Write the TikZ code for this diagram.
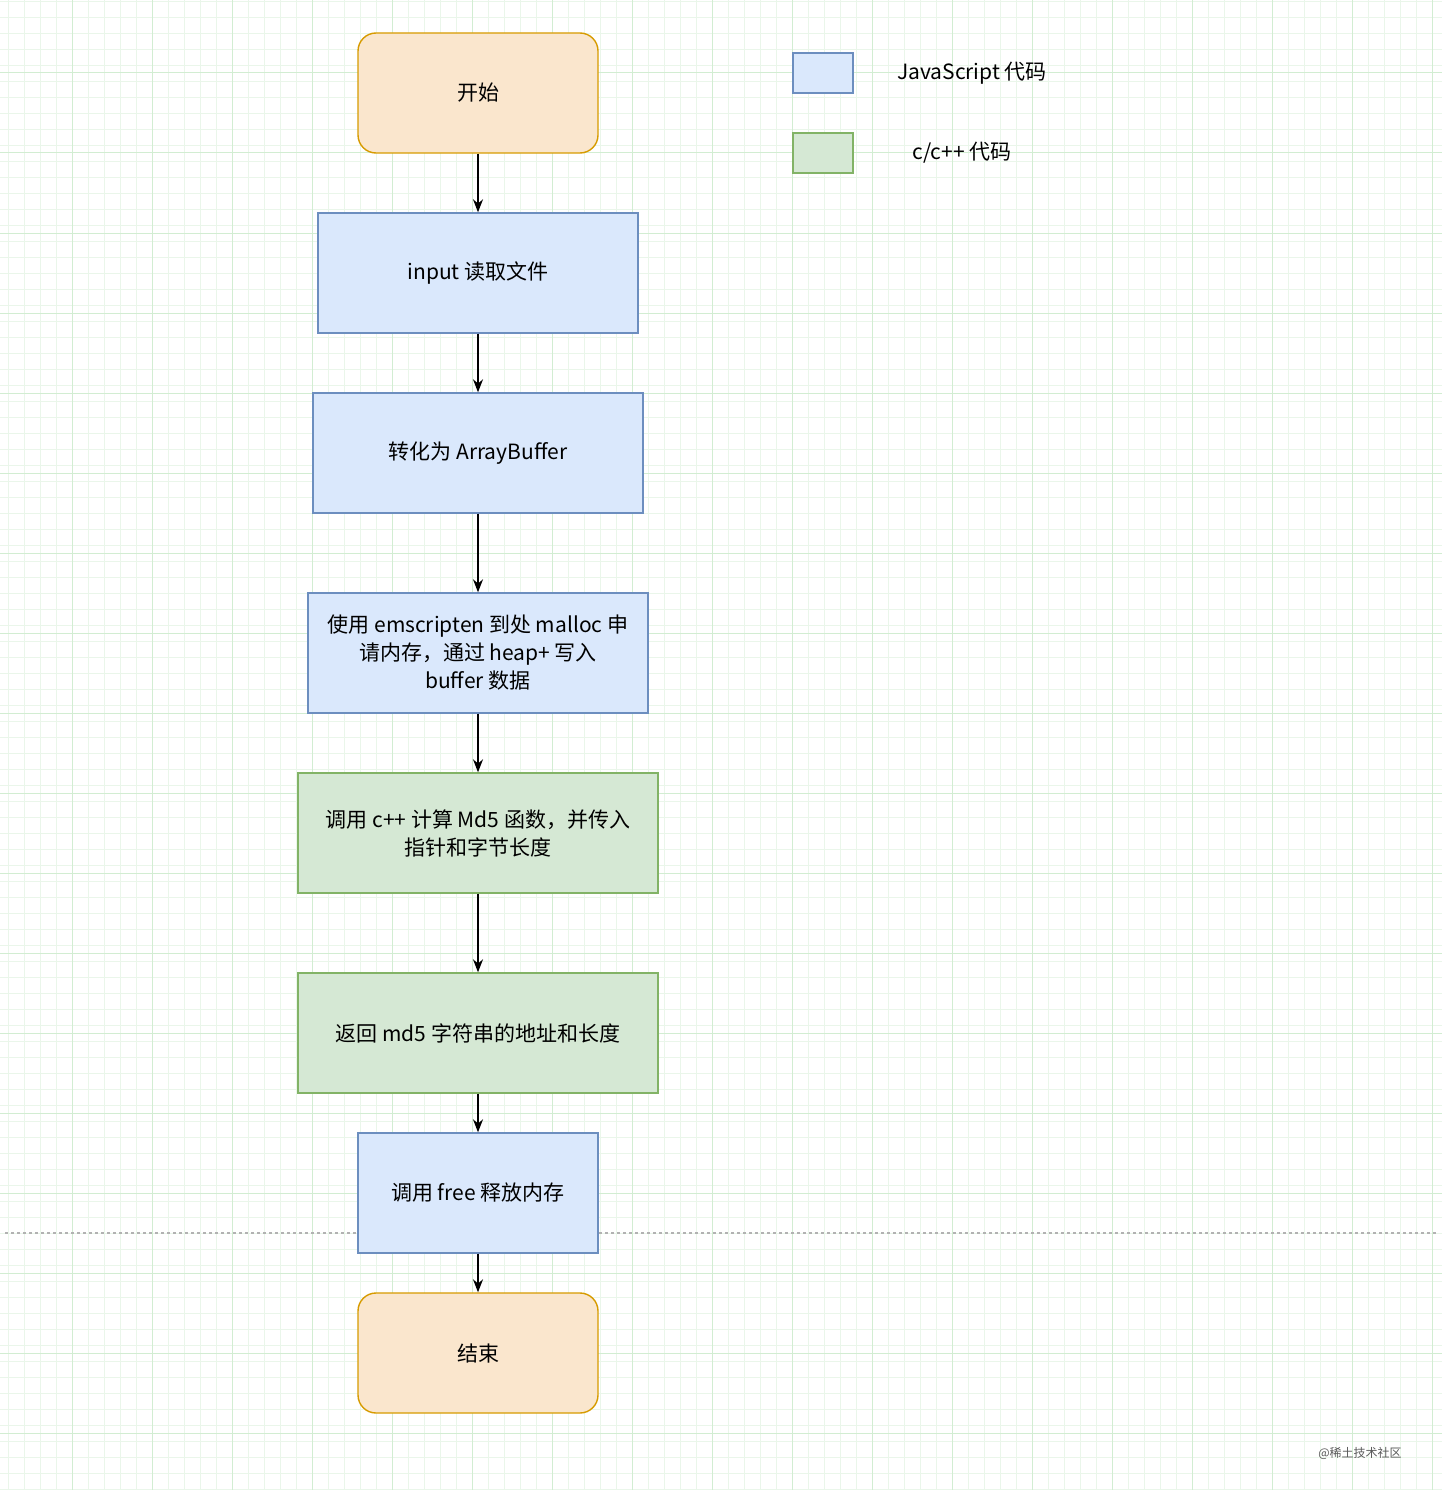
\documentclass[tikz,border=0pt]{standalone}
\usepackage{fontspec}
\setmainfont{Noto Sans CJK SC}
\usetikzlibrary{arrows.meta,positioning}
\definecolor{jsfill}{HTML}{DAE8FC}
\definecolor{jsdraw}{HTML}{6C8EBF}
\definecolor{cfill}{HTML}{D5E8D4}
\definecolor{cdraw}{HTML}{82B366}
\definecolor{tfill}{HTML}{FAE6CD}
\definecolor{tdraw}{HTML}{D79B00}
\definecolor{gridminor}{HTML}{EAF6EA}
\definecolor{gridmajor}{HTML}{D2EDD2}
\begin{document}
\begin{tikzpicture}[x=1pt,y=-1pt,>={Stealth[length=13pt,width=10pt]},
						box/.style={draw, line width=1.4pt, align=center, inner sep=2pt,
							font=\fontsize{21}{28}\selectfont, minimum height=120pt},
						js/.style={box, fill=jsfill, draw=jsdraw},
						cc/.style={box, fill=cfill, draw=cdraw},
						term/.style={box, fill=tfill, draw=tdraw, rounded corners=18pt, minimum width=240pt},
						flow/.style={->, line width=1.4pt}]

						%%% Background grid
						\useasboundingbox (0,0) rectangle (1442,1490);
						\fill[white] (0,0) rectangle (1442,1490);
						\foreach \x in {8,24,...,1440} \draw[gridminor, line width=0.8pt] (\x,0) -- (\x,1490);
						\foreach \y in {1,17,...,1490} \draw[gridminor, line width=0.8pt] (0,\y) -- (1442,\y);
						\foreach \x in {72,152,...,1440} \draw[gridmajor, line width=1pt] (\x,0) -- (\x,1490);
						\foreach \y in {73,153,...,1490} \draw[gridmajor, line width=1pt] (0,\y) -- (1442,\y);
						\draw[gray!60, dashed, line width=1.2pt] (5,1233) -- (1437,1233);

						%%% Flow
						\node at (478, 93) [term] (start) {开始};
						\node at (478, 273) [js, minimum width=320pt] (read) {input 读取文件};
						\node at (478, 453) [js, minimum width=330pt] (convert) {转化为 ArrayBuffer};
						\node at (478, 653) [js, minimum width=340pt] (malloc) {使用 emscripten 到处 malloc 申\\请内存，通过 heap+ 写入\\buffer 数据};
						\node at (478, 833) [cc, minimum width=360pt] (md5) {调用 c++ 计算 Md5 函数，并传入\\指针和字节长度};
						\node at (478, 1033) [cc, minimum width=360pt] (result) {返回 md5 字符串的地址和长度};
						\node at (478, 1193) [js, minimum width=240pt] (free) {调用 free 释放内存};
						\node at (478, 1353) [term] (finish) {结束};

						\draw [flow] (start) -- (read);
						\draw [flow] (read) -- (convert);
						\draw [flow] (convert) -- (malloc);
						\draw [flow] (malloc) -- (md5);
						\draw [flow] (md5) -- (result);
						\draw [flow] (result) -- (free);
						\draw [flow] (free) -- (finish);

						%%% Legend
						\node at (823, 73) [draw=jsdraw, fill=jsfill, line width=1.4pt, minimum width=60pt, minimum height=40pt] (keyjs) {};
						\node at (972, 73) [font=\fontsize{21}{28}\selectfont] (labeljs) {JavaScript 代码};
						\node at (823, 153) [draw=cdraw, fill=cfill, line width=1.4pt, minimum width=60pt, minimum height=40pt] (keyc) {};
						\node at (962, 153) [font=\fontsize{21}{28}\selectfont] (labelc) {c/c++ 代码};

						\node at (1360, 1453) [gray!70!black, font=\fontsize{12}{14}\selectfont] (mark) {@稀土技术社区};
					\end{tikzpicture}
\end{document}
